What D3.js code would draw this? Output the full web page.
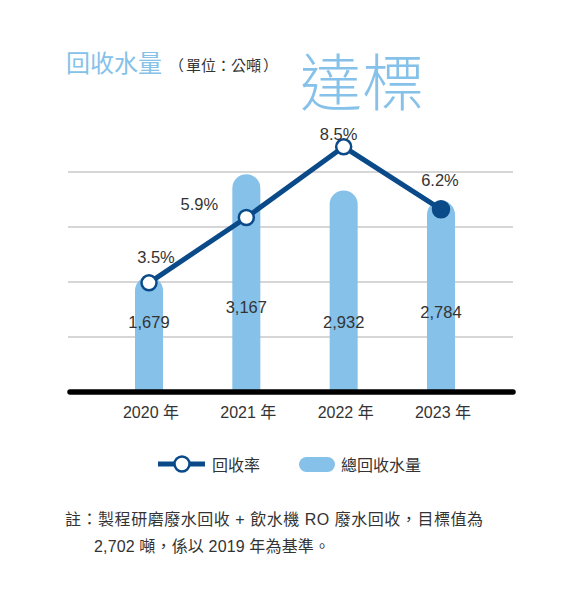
<!DOCTYPE html>
<html>
<head>
<meta charset="utf-8">
<script src="https://cdn.jsdelivr.net/npm/d3@7"></script>
<style>
  html, body { margin: 0; padding: 0; background: #fff; }
  svg { display: block; }
  text { font-family: "Liberation Sans", "Noto Sans CJK TC", sans-serif; fill: #333; }
  .cjk { font-family: "Noto Sans CJK TC", "Liberation Sans", sans-serif; }
</style>
</head>
<body>
<svg id="chart" width="581" height="604"></svg>
<script>
// Data
const years = ['2020', '2021', '2022', '2023'];
const waterVolume = [1679, 3167, 2932, 2784];       // 總回收水量 (公噸)
const recycleRate = [3.5, 5.9, 8.5, 6.2];           // 回收率 (%)
const volumeTicks = [800, 1600, 2400, 3200];

// label placement tweaks, relative to the marker / baseline
const rateLabelOffset = [[7, -20], [-47, -8], [-5, -7], [-1, -23]];
const volumeLabelOffset = [-64, -79, -64, -74];

const BAR_COLOR = '#85c1e9';
const LINE_COLOR = '#0b4a88';

const svg = d3.select('#chart');

const x = d3.scalePoint().domain(years).range([149, 441]);
const yVol = d3.scaleLinear().domain([0, 3200]).range([392, 172]);
const yRate = d3.scaleLinear().domain([0, 10]).range([378, 106]);

// Title
svg.append('text')
  .attr('class', 'cjk')
  .attr('x', 66).attr('y', 72)
  .attr('font-size', 24)
  .style('fill', BAR_COLOR)
  .text('回收水量');
// unit, split so the full-width brackets keep their width
const unit = svg.append('text')
  .attr('class', 'cjk')
  .attr('y', 71)
  .attr('font-size', 15);
unit.append('tspan').attr('x', 169).text('（');
unit.append('tspan').attr('x', 186).text('單位：公噸');
unit.append('tspan').attr('x', 263).text('）');
svg.append('text')
  .attr('class', 'cjk')
  .attr('x', 300).attr('y', 106)
  .attr('font-size', 62)
  .attr('font-weight', 300)
  .style('fill', BAR_COLOR)
  .text('達標');

// Gridlines
svg.append('g')
  .selectAll('line')
  .data(volumeTicks)
  .join('line')
  .attr('x1', 68).attr('x2', 513)
  .attr('y1', d => yVol(d)).attr('y2', d => yVol(d))
  .attr('stroke', '#c9c9c9')
  .attr('stroke-width', 1.5);

// Bars with rounded tops
const bw = 28, r = bw / 2;
svg.append('g')
  .selectAll('path')
  .data(years)
  .join('path')
  .attr('d', (d, i) => {
    const cx = x(d), top = yVol(waterVolume[i]), base = yVol(0);
    return `M${cx - r},${base}V${top + r}A${r},${r} 0 0 1 ${cx + r},${top + r}V${base}Z`;
  })
  .attr('fill', BAR_COLOR);

// Baseline
svg.append('line')
  .attr('x1', 70).attr('x2', 513)
  .attr('y1', yVol(0)).attr('y2', yVol(0))
  .attr('stroke', '#000')
  .attr('stroke-width', 5.5)
  .attr('stroke-linecap', 'round');

// Volume labels
svg.append('g')
  .selectAll('text')
  .data(years)
  .join('text')
  .attr('x', d => x(d))
  .attr('y', (d, i) => yVol(0) + volumeLabelOffset[i])
  .attr('text-anchor', 'middle')
  .attr('font-size', 16.5)
  .text((d, i) => d3.format(',')(waterVolume[i]));

// Rate line
const line = d3.line()
  .x((d, i) => x(years[i]))
  .y(d => yRate(d));

svg.append('path')
  .datum(recycleRate)
  .attr('d', line)
  .attr('fill', 'none')
  .attr('stroke', LINE_COLOR)
  .attr('stroke-width', 5);

svg.append('g')
  .selectAll('circle')
  .data(recycleRate)
  .join('circle')
  .attr('cx', (d, i) => x(years[i]))
  .attr('cy', d => yRate(d))
  .attr('r', (d, i) => i === recycleRate.length - 1 ? 8 : 7.5)
  .attr('fill', (d, i) => i === recycleRate.length - 1 ? LINE_COLOR : '#fff')
  .attr('stroke', LINE_COLOR)
  .attr('stroke-width', 2.5);

svg.append('g')
  .selectAll('text')
  .data(recycleRate)
  .join('text')
  .attr('x', (d, i) => x(years[i]) + rateLabelOffset[i][0])
  .attr('y', (d, i) => yRate(d) + rateLabelOffset[i][1])
  .attr('text-anchor', 'middle')
  .attr('font-size', 16.5)
  .text(d => d.toFixed(1) + '%');

// Year axis labels
svg.append('g')
  .selectAll('text')
  .data(years)
  .join('text')
  .attr('x', d => x(d) + 2)
  .attr('y', 418)
  .attr('text-anchor', 'middle')
  .attr('font-size', 16)
  .text(d => d + ' 年');

// Legend
const lg = svg.append('g');
lg.append('line')
  .attr('x1', 158).attr('x2', 205)
  .attr('y1', 464).attr('y2', 464)
  .attr('stroke', LINE_COLOR).attr('stroke-width', 5);
lg.append('circle')
  .attr('cx', 182).attr('cy', 464).attr('r', 7.5)
  .attr('fill', '#fff').attr('stroke', LINE_COLOR).attr('stroke-width', 2.5);
lg.append('text')
  .attr('class', 'cjk')
  .attr('x', 212).attr('y', 471)
  .attr('font-size', 16)
  .text('回收率');
lg.append('rect')
  .attr('x', 299).attr('y', 457)
  .attr('width', 36).attr('height', 15)
  .attr('rx', 7.5)
  .attr('fill', BAR_COLOR);
lg.append('text')
  .attr('class', 'cjk')
  .attr('x', 341).attr('y', 471)
  .attr('font-size', 16)
  .text('總回收水量');

// Note (textLength keeps the full-width punctuation spacing of the original)
svg.append('text')
  .attr('x', 65).attr('y', 525)
  .attr('font-size', 16)
  .attr('textLength', 418)
  .attr('lengthAdjust', 'spacing')
  .text('註：製程研磨廢水回收 + 飲水機 RO 廢水回收，目標值為');
svg.append('text')
  .attr('x', 94).attr('y', 552)
  .attr('font-size', 16)
  .attr('textLength', 236)
  .attr('lengthAdjust', 'spacing')
  .text('2,702 噸，係以 2019 年為基準。');
</script>
</body>
</html>
